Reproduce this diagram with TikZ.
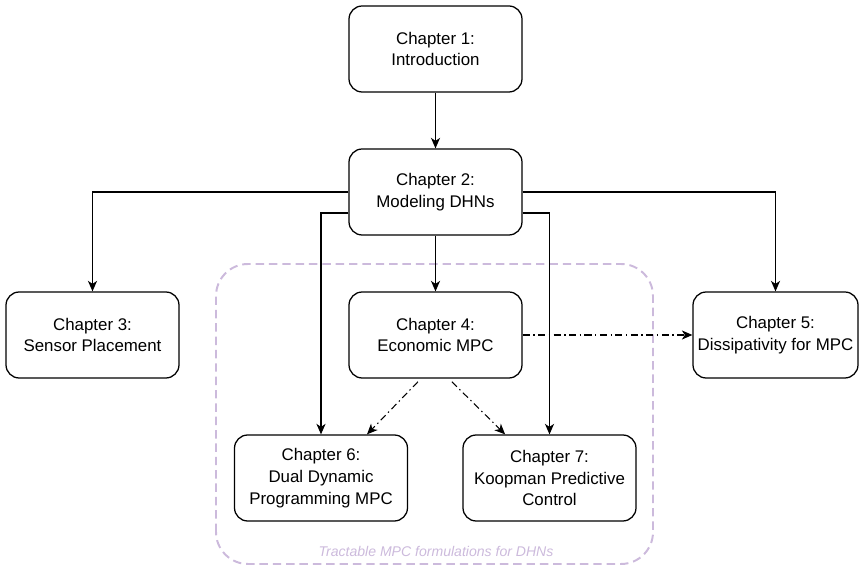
\documentclass[tikz,border=0pt]{standalone}
\usepackage{fontspec}
\setmainfont{Liberation Sans}
\usetikzlibrary{positioning, arrows.meta}

\definecolor{lilac}{RGB}{204,186,220}

\tikzset{
	chapter/.style = {draw, line width = 0.9 pt, rounded corners = 0.33 cm, minimum width = 4.325 cm,
		minimum height = 2.15 cm, align = center, font = \fontsize{12}{15.4}\selectfont},
	link/.style = {->, line width = 0.75 pt},
	dashlink/.style = {->, line width = 0.75 pt, dash pattern = on 5pt off 2.5pt on 1pt off 2.5pt}
}

\begin{document}
\begin{tikzpicture}[> = {Stealth[length=7.5pt, width=6.5pt, inset=2.2pt]}]

	\useasboundingbox (0, 0) rectangle (21.475, 14.15);

	% Region of the tractable formulations
	
	\draw [lilac, line width = 1.4 pt, dash pattern = on 6pt off 3.5pt, rounded corners = 0.8 cm]
		(5.4, 0.05) rectangle (16.325, 7.55);
	\node [lilac, font = \fontsize{10}{12}\selectfont\itshape] (tract) at (10.9, 0.375)
		{Tractable MPC formulations for DHNs};
	
	% Chapters
	
	\node [chapter] (ch1) at (10.8875, 12.925) {Chapter 1:\\Introduction};
	\node [chapter] (ch2) at (10.8875, 9.35) {Chapter 2:\\Modeling DHNs};
	\node [chapter] (ch3) at (2.3125, 5.775) {Chapter 3:\\Sensor Placement};
	\node [chapter] (ch4) at (10.8875, 5.775) {Chapter 4:\\Economic MPC};
	\node [chapter, minimum width = 4.125 cm] (ch5) at (19.3875, 5.775) {Chapter 5:\\Dissipativity for MPC};
	\node [chapter] (ch6) at (8.025, 2.2) {Chapter 6:\\Dual Dynamic\\Programming MPC};
	\node [chapter] (ch7) at (13.7375, 2.2) {Chapter 7:\\Koopman Predictive\\Control};
	
	% Dependencies
	
	\draw [link] (ch1) -- (ch2);
	\draw [link] (ch2) -- (ch4);
	\draw [link] (ch2.west) -| (ch3.north);
	\draw [link] (ch2.east) -| (ch5.north);
	\draw [link] ([yshift = -0.525 cm] ch2.west) -| (ch6.north);
	\draw [link] ([yshift = -0.525 cm] ch2.east) -| (ch7.north);
	
	% Links from the economic MPC
	
	\draw [dashlink] (ch4.east) -- (ch5.west);
	\draw [dashlink] ([xshift = -0.44 cm, yshift = -0.08 cm] ch4.south) -- ([xshift = 1.15 cm] ch6.north);
	\draw [dashlink] ([xshift = 0.41 cm, yshift = -0.08 cm] ch4.south) -- ([xshift = -1.11 cm] ch7.north);

\end{tikzpicture}
\end{document}
